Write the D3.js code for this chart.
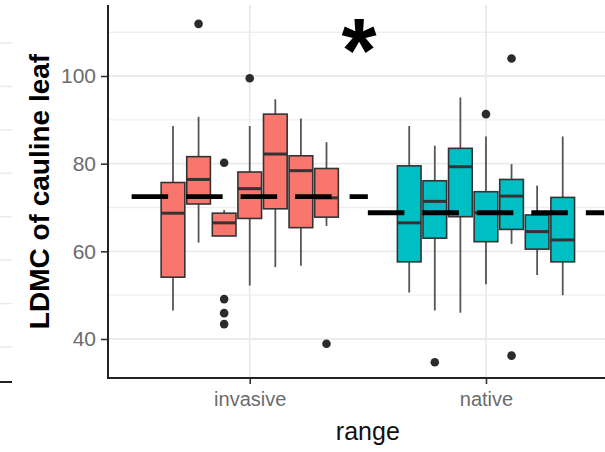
<!DOCTYPE html>
<html><head><meta charset="utf-8">
<script src="https://cdn.jsdelivr.net/npm/d3@7"></script>
<style>html,body{margin:0;padding:0;background:#fff;}svg{display:block;font-family:"Liberation Sans",Arial,sans-serif;}</style>
</head><body><div id="chart"></div>
<script>
// ---- data ----
const ranges = ["invasive", "native"];
const pops = ["p1","p2","p3","p4","p5","p6","p7"];
const rangeColors = ["#F8766D", "#00BFC4"];
// five-number summaries per population: [lowerWhisker, q1, median, q3, upperWhisker]
const invasiveStats = [
  [46.5, 54.1, 68.7, 75.7, 88.6],
  [62.0, 70.8, 76.4, 81.6, 90.7],
  [63.5, 63.5, 66.5, 68.7, 69.4],
  [52.2, 67.5, 74.3, 78.1, 88.6],
  [56.4, 69.7, 82.2, 91.3, 94.7],
  [56.7, 65.4, 78.4, 81.8, 90.3],
  [65.8, 67.8, 72.2, 78.9, 84.9]
];
const nativeStats = [
  [50.6, 57.6, 66.5, 79.5, 88.6],
  [46.5, 63.0, 71.4, 76.1, 84.1],
  [46.0, 67.9, 79.3, 83.5, 95.1],
  [52.5, 62.2, 68.8, 73.6, 86.2],
  [61.7, 65.0, 72.6, 76.4, 79.9],
  [54.6, 60.5, 64.5, 68.3, 75.0],
  [50.0, 57.6, 62.6, 72.3, 86.2]
];
const invasiveOutliers = [[], [111.9], [80.2, 49.1, 45.9, 43.4], [99.5], [], [], [38.9]];
const nativeOutliers = [[], [34.7], [], [91.3], [104.0, 36.2], [], []];
const rangeMeans = [72.5, 68.8];
const yTicks = [40, 60, 80, 100];
const yMinor = [50, 70, 90, 110];
const leftPanelGrid = [0,1,2,3,4,5,6,7];

const W = 605, H = 452;
const svg = d3.select("#chart").append("svg").attr("width", W).attr("height", H);

const panel = {left: 108, right: 627.7, top: 5, bottom: 378};
const y = d3.scaleLinear().domain([31.1, 116.2]).range([panel.bottom, panel.top]);
const x = d3.scalePoint().domain(ranges).range([panel.left, panel.right]).padding(0.6);
const step = x.step();
const xs = d3.scaleBand().domain(pops).range([-0.375*step, 0.375*step]).paddingInner(0.075);

// stray piece of neighbouring panel at far left
const yl = d3.scaleLinear().domain([0,7]).range([43, 347]);
svg.append("g").selectAll("line").data(leftPanelGrid).join("line")
  .attr("x1", 0).attr("x2", 12).attr("y1", d=>yl(d)).attr("y2", d=>yl(d))
  .attr("stroke", "#ebebeb").attr("stroke-width", 1.6);
svg.append("line").attr("x1",0).attr("x2",12).attr("y1",382).attr("y2",382).attr("stroke","#222").attr("stroke-width",2);

// grid
const g = svg.append("g");
g.selectAll(".minor").data(yMinor).join("line")
  .attr("x1", panel.left).attr("x2", W).attr("y1", d=>y(d)).attr("y2", d=>y(d))
  .attr("stroke", "#efefef").attr("stroke-width", 1.4);
g.selectAll(".major").data(yTicks).join("line")
  .attr("x1", panel.left).attr("x2", W).attr("y1", d=>y(d)).attr("y2", d=>y(d))
  .attr("stroke", "#ebebeb").attr("stroke-width", 1.8);
g.selectAll(".vmajor").data(ranges).join("line")
  .attr("x1", d=>x(d)).attr("x2", d=>x(d)).attr("y1", panel.top).attr("y2", panel.bottom)
  .attr("stroke", "#ebebeb").attr("stroke-width", 1.8);

// boxes
const allStats = [invasiveStats, nativeStats];
const allOut = [invasiveOutliers, nativeOutliers];
const bw = xs.bandwidth();
ranges.forEach((r, ri) => {
  const gg = svg.append("g");
  pops.forEach((p, pi) => {
    const s = allStats[ri][pi];
    const cx = x(r) + xs(p) + bw/2;
    gg.append("line").attr("x1", cx).attr("x2", cx).attr("y1", y(s[4])).attr("y2", y(s[3]))
      .attr("stroke", "#555").attr("stroke-width", 1.8);
    gg.append("line").attr("x1", cx).attr("x2", cx).attr("y1", y(s[1])).attr("y2", y(s[0]))
      .attr("stroke", "#555").attr("stroke-width", 1.8);
    gg.append("rect").attr("x", cx - bw/2).attr("width", bw)
      .attr("y", y(s[3])).attr("height", y(s[1]) - y(s[3]))
      .attr("fill", rangeColors[ri]).attr("stroke", "#333").attr("stroke-width", 1.6);
    gg.append("line").attr("x1", cx - bw/2).attr("x2", cx + bw/2).attr("y1", y(s[2])).attr("y2", y(s[2]))
      .attr("stroke", "#333").attr("stroke-width", 3);
    allOut[ri][pi].forEach(v => {
      gg.append("circle").attr("cx", cx).attr("cy", y(v)).attr("r", 4.3).attr("fill", "#2b2b2b");
    });
  });
});

// mean dashed lines
svg.append("g").selectAll("line").data(ranges).join("line")
  .attr("x1", d => x(d) - step/2).attr("x2", d => x(d) + step/2)
  .attr("y1", (d,i) => y(rangeMeans[i])).attr("y2", (d,i) => y(rangeMeans[i]))
  .attr("stroke", "#000").attr("stroke-width", 4.8).attr("stroke-dasharray", "36.5 18");

// axes
const yAxis = d3.axisLeft(y).tickValues(yTicks).tickSize(7).tickPadding(5);
const ya = svg.append("g").attr("transform", `translate(${panel.left},0)`).call(yAxis);
ya.select(".domain").remove();
ya.selectAll(".tick line").attr("stroke", "#333").attr("stroke-width", 1.6);
ya.selectAll("text").attr("fill", "#6b6b6b").attr("font-size", 21).attr("font-family", "Liberation Sans, Arial, sans-serif");

const xAxis = d3.axisBottom(x).tickSize(6).tickPadding(8);
const xa = svg.append("g").attr("transform", `translate(0,${panel.bottom})`).call(xAxis);
xa.select(".domain").remove();
xa.selectAll(".tick line").attr("stroke", "#333").attr("stroke-width", 1.6);
xa.selectAll("text").attr("fill", "#6b6b6b").attr("font-size", 20).attr("font-family", "Liberation Sans, Arial, sans-serif");

svg.append("line").attr("x1", panel.left).attr("x2", panel.left).attr("y1", panel.top).attr("y2", panel.bottom+1)
  .attr("stroke", "#222").attr("stroke-width", 2);
svg.append("line").attr("x1", panel.left-1).attr("x2", W).attr("y1", panel.bottom).attr("y2", panel.bottom)
  .attr("stroke", "#222").attr("stroke-width", 2);

// titles
svg.append("text").attr("transform", `translate(49,${(panel.top+panel.bottom)/2}) rotate(-90)`)
  .attr("text-anchor", "middle").attr("font-weight", "bold").attr("font-size", 28).attr("fill", "#000")
  .text("LDMC of cauline leaf");
svg.append("text").attr("x", (panel.left+panel.right)/2).attr("y", 440)
  .attr("text-anchor", "middle").attr("font-size", 25).attr("fill", "#111").text("range");

// significance star
svg.append("text").attr("x", 359).attr("y", 81.5).attr("text-anchor", "middle")
  .attr("font-weight", "bold").attr("font-size", 90).attr("fill", "#000").text("*");
</script></body></html>
